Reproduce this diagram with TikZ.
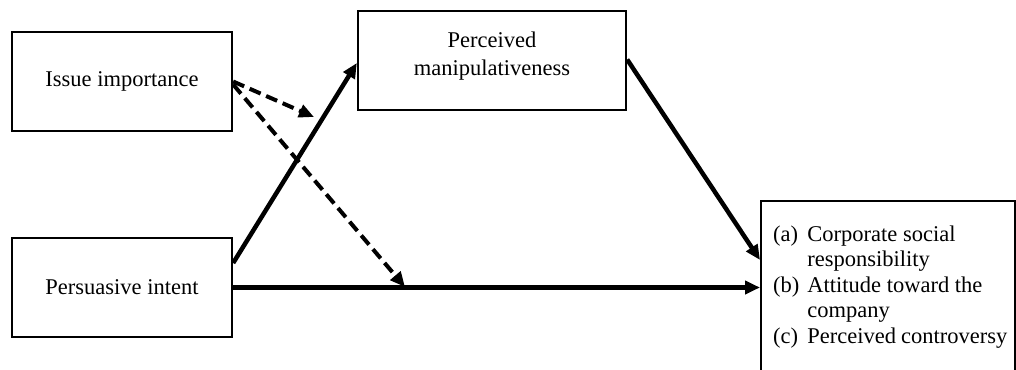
\documentclass[tikz,border=0pt]{standalone}
\usepackage{fontspec}
\setmainfont{Liberation Serif}
\usetikzlibrary{arrows.meta,calc}
\begin{document}
\begin{tikzpicture}[x=1pt,y=-1pt,
  box/.style={draw=black,line width=2.3pt,rectangle,inner sep=0pt,align=center,
    font=\fontsize{22.5}{28}\selectfont},
  txt/.style={inner sep=0pt,align=center,font=\fontsize{22.5}{28}\selectfont},
  arr/.style={line width=4.5pt,-{Triangle[length=15pt,width=13pt]}},
  darr/.style={line width=4pt,dash pattern=on 12pt off 6pt,-{Triangle[length=15pt,width=13pt]}}
]
\useasboundingbox (0,0) rectangle (1016,369);
\fill[white] (0,0) rectangle (1016,369);
\node[box,minimum width=220pt,minimum height=99pt] (ii) at (122,81.5) {Issue importance};
\node[box,minimum width=220pt,minimum height=99pt] (pi) at (122,287.5) {Persuasive intent};
\node[box,minimum width=268pt,minimum height=99pt] (pm) at (492,60.5) {};
\node[txt] (pmtext) at (492,56) {Perceived\\manipulativeness};
\node[box,minimum width=254pt,minimum height=260pt,anchor=north west] (out) at (760,200) {};
\node[anchor=north west,inner sep=0pt,font=\fontsize{22.5}{27}\selectfont,align=left] (outtext) at (773,222)
  {\begin{tabular}{@{}l@{\hspace{8pt}}l@{}}
   (a) & Corporate social\\[-1.5pt]
       & responsibility\\[-1.5pt]
   (b) & Attitude toward the\\[-1.5pt]
       & company\\[-1.5pt]
   (c) & Perceived\hspace{5pt}controversy
   \end{tabular}};
\coordinate (m1) at (314,117);
\coordinate (m2) at (405,287);
\coordinate (m3) at (760,260);
\draw[arr] ([yshift=24.5pt]pi.east) -- ([yshift=-2.5pt]pm.west);
\draw[arr] ([yshift=1pt]pm.east) -- (m3);
\draw[arr] (pi.east) -- (pi.east -| out.west);
\draw[darr] (ii.east) -- (m1);
\draw[darr] ([yshift=-3pt]ii.east) -- (m2);
\end{tikzpicture}
\end{document}
